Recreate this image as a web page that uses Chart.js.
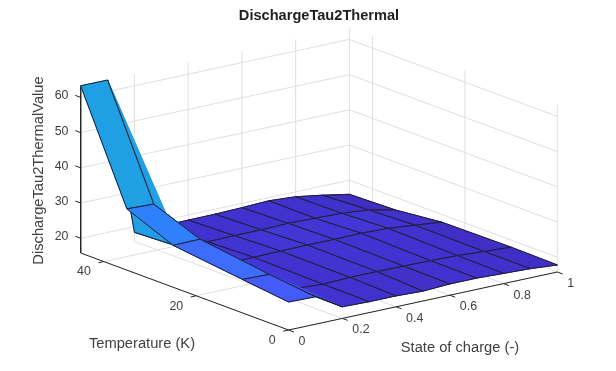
<!DOCTYPE html>
<html lang="en">
<head>
<meta charset="UTF-8">
<title>DischargeTau2Thermal</title>
<script src="https://cdn.jsdelivr.net/npm/chart.js"></script>
<style>
  html, body { margin: 0; padding: 0; background: #fff; }
  canvas { display: block; }
</style>
</head>
<body>
<canvas id="chart" width="616" height="371"></canvas>
<script>
// surface data
const socValues = [0, 0.1, 0.2, 0.3, 0.4, 0.5, 0.6, 0.7, 0.8, 0.9, 1];
const tempValues = [0, 10, 25, 35, 45];
const tauAtT0 = [23.75, 23.6, 19.1, 18.9, 18.9, 18.6, 19, 19, 18.7, 18.4, 17.8];
const tauAtT10 = [25.3, 25.1, 19.5, 19, 19.3, 19.3, 19.2, 19.1, 18.9, 18.4, 18];
const tauAtT25 = [27.7, 27.8, 19.3, 19.35, 19.5, 19.55, 19.5, 19.6, 19.35, 18.6, 17.8];
const tauAtT35 = [33.2, 32.9, 19, 18.9, 19, 19, 19.2, 19, 18.75, 18.05, 16.4];
const tauAtT45 = [63.3, 63.3, 18.4, 18.5, 18.55, 18.6, 18.8, 19.1, 18.6, 17.4, 16];
const tauRows = [tauAtT0, tauAtT10, tauAtT25, tauAtT35, tauAtT45];

const socTicks = [0, 0.2, 0.4, 0.6, 0.8, 1];
const tempTicks = [0, 20, 40];
const tauTicks = [20, 30, 40, 50, 60];

// axis limits
const socMax = 1, tempMax = 45, tauMin = 15.8, tauMax = 63.3;

// parula colormap, the low part is all this surface reaches
const parula = ['#3e26a8', '#4132d0', '#4545ee', '#4266fd', '#2f80fb', '#2a90f4', '#20a0e4', '#12aedb'];
const parulaStep = 0.06;
const colorLimits = [16.2, 63.3];

// 3d view -> canvas position (orthographic)
function project(soc, temp, tau) {
  return {
    x: 288.6 + 268.7 * soc - 4.62 * temp,
    y: 330 - 58 * soc - 1.711 * temp - 3.52 * (tau - tauMin)
  };
}

function hexToRgb(h) {
  return [1, 3, 5].map(i => parseInt(h.slice(i, i + 2), 16));
}

function tauColor(tau) {
  let t = (tau - colorLimits[0]) / (colorLimits[1] - colorLimits[0]) / parulaStep;
  t = Math.max(0, Math.min(parula.length - 1.001, t));
  const i = Math.floor(t), f = t - i;
  const a = hexToRgb(parula[i]), b = hexToRgb(parula[i + 1]);
  return 'rgb(' + a.map((v, k) => Math.round(v + (b[k] - v) * f)).join(',') + ')';
}

const datasets = [];
const gridColor = '#dfdfdf';
const axisColor = '#262626';
const edgeColor = '#1d1d2b';

function addLine(points, color, width) {
  datasets.push({
    data: points, showLine: true, borderColor: color, borderWidth: width,
    pointRadius: 0, fill: false, tension: 0
  });
}

function addFill(points, color) {
  datasets.push({
    data: points, showLine: true, borderColor: color, borderWidth: 1,
    backgroundColor: color, pointRadius: 0, fill: 'shape', tension: 0
  });
}

// grid on the walls and floor
tauTicks.forEach(z => {
  addLine([project(0, tempMax, z), project(socMax, tempMax, z), project(socMax, 0, z)], gridColor, 1);
});
socTicks.forEach(s => {
  addLine([project(s, 0, tauMin), project(s, tempMax, tauMin), project(s, tempMax, tauMax)], gridColor, 1);
});
tempTicks.forEach(t => {
  addLine([project(0, t, tauMin), project(socMax, t, tauMin), project(socMax, t, tauMax)], gridColor, 1);
});

// axes and tick marks
addLine([project(0, tempMax, tauMax), project(0, tempMax, tauMin), project(0, 0, tauMin), project(socMax, 0, tauMin)], axisColor, 1);
tauTicks.forEach(z => {
  const p = project(0, tempMax, z);
  addLine([p, { x: p.x - 5.4, y: p.y - 2 }], axisColor, 1);
});
tempTicks.forEach(t => {
  const p = project(0, t, tauMin);
  addLine([p, { x: p.x - 5.4, y: p.y + 1.2 }], axisColor, 1);
});
socTicks.forEach(s => {
  const p = project(s, 0, tauMin);
  addLine([p, { x: p.x + 5.4, y: p.y + 2 }], axisColor, 1);
});

// surface, back to front: far temperature and high soc first
for (let r = tempValues.length - 2; r >= 0; r--) {
  for (let c = socValues.length - 2; c >= 0; c--) {
    const a = project(socValues[c + 1], tempValues[r + 1], tauRows[r + 1][c + 1]);
    const b = project(socValues[c + 1], tempValues[r], tauRows[r][c + 1]);
    const d = project(socValues[c], tempValues[r], tauRows[r][c]);
    const e = project(socValues[c], tempValues[r + 1], tauRows[r + 1][c]);
    // flat colour comes from the lowest index corner
    const color = tauColor(tauRows[r][c]);
    // split along e-b, the folded cells only look right that way
    addFill([e, a, b, e], color);
    addFill([e, b, d, e], color);
    addLine([a, b, d, e, a], edgeColor, 1);
  }
}

// chart.js paints dataset 0 last
datasets.reverse();

const textColor = '#404040';
const labelFont = '12.4px "Liberation Sans", Arial, sans-serif';
const titleFont = '14.7px "Liberation Sans", Arial, sans-serif';

const axisText = {
  id: 'axisText',
  afterDraw(chart) {
    const ctx = chart.ctx;
    ctx.save();
    ctx.fillStyle = textColor;
    ctx.textBaseline = 'middle';
    ctx.font = labelFont;
    ctx.textAlign = 'right';
    tauTicks.forEach(z => {
      const p = project(0, tempMax, z);
      ctx.fillText(String(z), 68.5, p.y - 1.5);
    });
    tempTicks.forEach(t => {
      const p = project(0, t, tauMin);
      ctx.fillText(String(t), p.x - 13, p.y + 10.5);
    });
    ctx.textAlign = 'left';
    socTicks.forEach(s => {
      const p = project(s, 0, tauMin);
      ctx.fillText(String(s), p.x + 10, p.y + 11.5);
    });
    ctx.font = titleFont;
    ctx.textAlign = 'center';
    ctx.fillText('State of charge (-)', 460, 348);
    ctx.fillText('Temperature (K)', 142, 344);
    ctx.translate(39, 170.5);
    ctx.rotate(-Math.PI / 2);
    ctx.fillText('DischargeTau2ThermalValue', 0, 0);
    ctx.restore();
  }
};

const titleSize = 14.6, titleTop = 7.2, titleBottom = 1;

new Chart(document.getElementById('chart'), {
  type: 'scatter',
  data: { datasets: datasets },
  plugins: [axisText],
  options: {
    responsive: false,
    animation: false,
    layout: { padding: { left: 22 } },
    plugins: {
      legend: { display: false },
      tooltip: { enabled: false },
      title: {
        display: true,
        text: 'DischargeTau2Thermal',
        color: '#1f1f1f',
        font: { family: '"Liberation Sans", Arial, sans-serif', size: titleSize, weight: 'bold', lineHeight: 1.2 },
        padding: { top: titleTop, bottom: titleBottom }
      }
    },
    scales: {
      x: { type: 'linear', display: false, min: 22, max: 616 },
      y: { type: 'linear', display: false, min: titleTop + titleBottom + titleSize * 1.2, max: 371, reverse: true }
    }
  }
});
</script>
</body>
</html>
